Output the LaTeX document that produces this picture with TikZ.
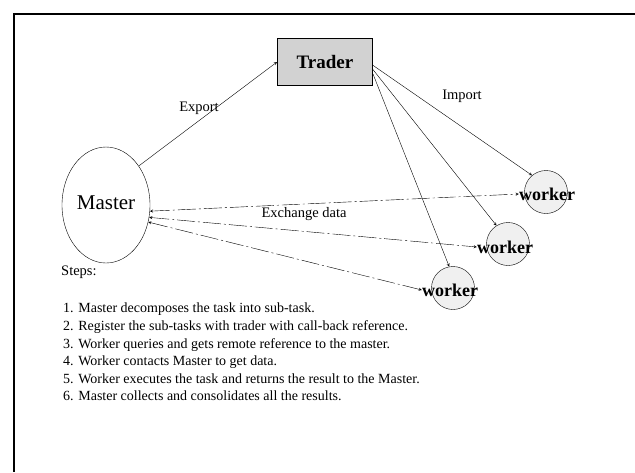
\documentclass[tikz,border=0pt]{standalone}
\usepackage{fontspec}
\setmainfont{Liberation Serif}
\usetikzlibrary{shapes.geometric}

\tikzset{
  trader/.style={draw, line width=1pt, fill=gray!35, minimum width=95pt, minimum height=47pt, font=\bfseries\fontsize{19}{19}\selectfont},
  master/.style={draw, ellipse, minimum width=88pt, minimum height=116pt, inner sep=0pt},
  workerball/.style={draw, circle, fill=gray!12, minimum size=43pt, inner sep=0pt},
  workertext/.style={inner sep=0pt, font=\bfseries\fontsize{18}{18}\selectfont},
  lbl/.style={inner sep=1pt, font=\fontsize{14.5}{14.5}\selectfont},
  exch/.style={<->, dash pattern=on 18pt off 3pt on 2pt off 3pt},
}

\begin{document}
\begin{tikzpicture}[x=1pt, y=-1pt, >=stealth]
\useasboundingbox (0,0) rectangle (635,472);
% frame
\draw[line width=1.4pt] (635,14)--(14,14)--(14,472);

\node[trader] (trader) at (325,62) {Trader};
\node[master] (master) at (106,205) {};
\node[font=\fontsize{21}{21}\selectfont] (mastertext) at (106,203) {Master};

\node[workerball] (w1) at (546,192) {};
\node[workerball] (w2) at (508,244) {};
\node[workerball] (w3) at (453,288) {};
\node[workertext] (w1t) at (547,194) {worker};
\node[workertext] (w2t) at (505,247) {worker};
\node[workertext] (w3t) at (450,290) {worker};

% export / import
\draw[->] (master.50) -- (trader.west);
\draw[->] (trader.-4) -- (w1.130);
\draw[->] (trader.-9) -- (w2.122);
\draw[->] (trader.-14) -- (w3.100);
\node[lbl] (export) at (199,108) {Export};
\node[lbl] (import) at (462,96) {Import};

% exchange data
\draw[exch] (master.-8) -- (w1t.west);
\draw[exch] (master.-16) -- (w2t.west);
\draw[exch] (master.-22) -- (w3t.west);
\node[lbl] (exchange) at (304,214) {Exchange data};

\node[lbl, anchor=west] (steps) at (60,272) {Steps:};
\node[lbl, anchor=north west, align=left, font=\fontsize{14}{17.6}\selectfont] (list) at (62,302) {%
1. Master decomposes the task into sub-task.\\
2. Register the sub-tasks with trader with call-back reference.\\
3. Worker queries and gets remote reference to the master.\\
4. Worker contacts Master to get data.\\
5. Worker executes the task and returns the result to the Master.\\
6. Master collects and consolidates all the results.};
\end{tikzpicture}
\end{document}
